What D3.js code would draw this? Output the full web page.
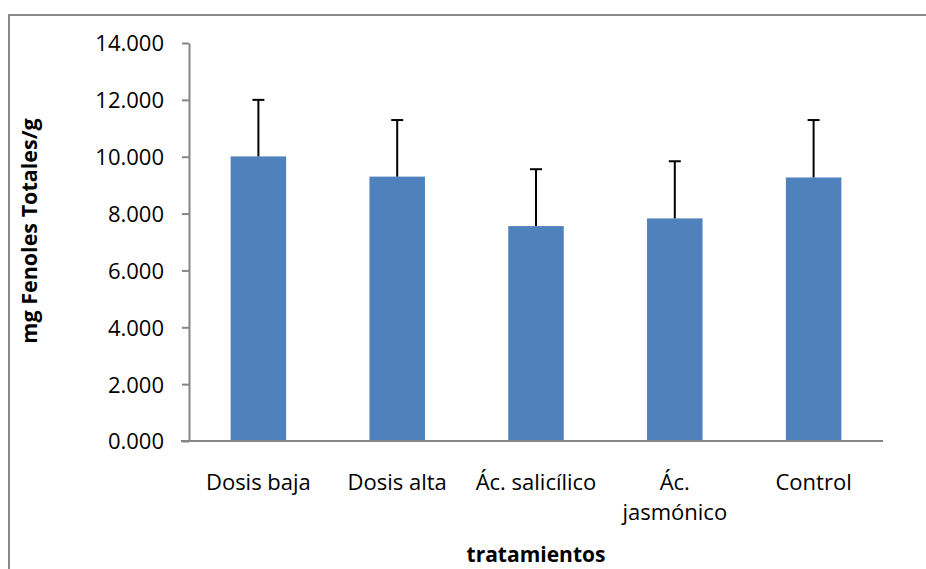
<!DOCTYPE html>
<html>
<head>
<meta charset="utf-8">
<script src="https://cdn.jsdelivr.net/npm/d3@7/dist/d3.min.js"></script>
<style>
  html, body { margin: 0; padding: 0; background: #fff; }
  svg { display: block; }
  text { font-family: "Open Sans", "Noto Sans", sans-serif; fill: #000; }
</style>
</head>
<body>
<svg id="chart" width="926" height="569"></svg>
<script>
const categories = ["Dosis baja", "Dosis alta", "Ác. salicílico", "Ác. jasmónico", "Control"];
const categoryLines = [["Dosis baja"], ["Dosis alta"], ["Ác. salicílico"], ["Ác.", "jasmónico"], ["Control"]];
const values = [10.01, 9.30, 7.56, 7.83, 9.27];
const errors = [1.99, 1.99, 2.00, 2.01, 2.02];
const yTicks = [0, 2, 4, 6, 8, 10, 12, 14];
const yTitle = "mg Fenoles Totales/g";
const xTitle = "tratamientos";

const svg = d3.select("#chart");
const W = 926, H = 569;
const plot = { left: 189, right: 883, top: 43, bottom: 441 };

// outer chart border
svg.append("rect")
  .attr("x", 9).attr("y", 15)
  .attr("width", W + 20).attr("height", H + 20)
  .attr("fill", "none").attr("stroke", "#898989").attr("stroke-width", 2);

const x = d3.scaleBand().domain(categories).range([plot.left, plot.right]).paddingInner(0.6).paddingOuter(0.3);
const y = d3.scaleLinear().domain([0, 14]).range([plot.bottom, plot.top]);

const fmt = d3.format(".3f");

// Y axis
const yAxis = svg.append("g")
  .attr("transform", `translate(${plot.left},0)`)
  .call(d3.axisLeft(y).tickValues(yTicks).tickFormat(fmt).tickSize(7).tickPadding(18).tickSizeOuter(0));
yAxis.select(".domain").attr("stroke", "#868686").attr("stroke-width", 2);
yAxis.selectAll(".tick line").attr("stroke", "#868686").attr("stroke-width", 2);
yAxis.selectAll(".tick text")
  .attr("font-family", "'Open Sans', sans-serif")
  .attr("font-size", 22).attr("fill", "#000").attr("dy", "0.36em");

// bars
svg.append("g").selectAll("rect")
  .data(categories)
  .join("rect")
  .attr("x", d => x(d))
  .attr("width", x.bandwidth())
  .attr("y", (d, i) => y(values[i]))
  .attr("height", (d, i) => y(0) - y(values[i]))
  .attr("fill", "#4F81BD");

// error bars
const eg = svg.append("g").attr("stroke", "#000").attr("stroke-width", 2);
categories.forEach((c, i) => {
  const cx = x(c) + x.bandwidth() / 2;
  eg.append("line").attr("x1", cx).attr("x2", cx)
    .attr("y1", y(values[i])).attr("y2", y(values[i] + errors[i]));
  eg.append("line").attr("x1", cx - 6).attr("x2", cx + 6)
    .attr("y1", y(values[i] + errors[i])).attr("y2", y(values[i] + errors[i]));
});

// X axis
const xAxis = svg.append("g")
  .attr("transform", `translate(0,${plot.bottom})`)
  .call(d3.axisBottom(x).tickSize(0).tickSizeOuter(0).tickFormat(""));
xAxis.select(".domain").attr("stroke", "#868686").attr("stroke-width", 2)
  .attr("d", `M${plot.left - 8},0H${plot.right}`);

// x tick labels (wrapped)
const xl = svg.append("g");
categories.forEach((c, i) => {
  const t = xl.append("text")
    .attr("x", x(c) + x.bandwidth() / 2)
    .attr("y", 490)
    .attr("text-anchor", "middle")
    .attr("font-size", 22);
  categoryLines[i].forEach((ln, j) => {
    t.append("tspan").attr("x", x(c) + x.bandwidth() / 2).attr("dy", j === 0 ? 0 : 30).text(ln);
  });
});

// axis titles
svg.append("text")
  .attr("transform", `translate(37,231) rotate(-90)`)
  .attr("text-anchor", "middle")
  .attr("font-size", 21.5).attr("font-weight", "bold")
  .text(yTitle);

svg.append("text")
  .attr("x", (plot.left + plot.right) / 2)
  .attr("y", 562)
  .attr("text-anchor", "middle")
  .attr("font-size", 21).attr("font-weight", "bold")
  .text(xTitle);
</script>
</body>
</html>
